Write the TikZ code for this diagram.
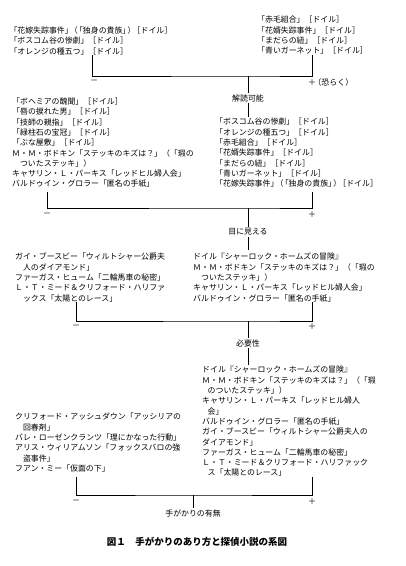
\documentclass[tikz,border=0pt]{standalone}
\usepackage{fontspec}
\setmainfont{Noto Sans CJK JP}
\usepackage{tikz}
\newcommand{\pk}{\kern-.35em}
\tikzset{
  works/.style={anchor=north west,inner sep=0pt,align=left,font=\fontsize{7.9}{10.3}\selectfont},
  sign/.style={inner sep=0pt,font=\fontsize{8}{9}\selectfont},
  axis/.style={inner sep=1.5pt,font=\fontsize{7.9}{9}\selectfont},
  tree/.style={line width=0.6pt}
}

\begin{document}
\begin{tikzpicture}[x=1pt,y=-1pt]
%%\draw[help lines] (0,0) grid (406,566);
\useasboundingbox (0,0) rectangle (406,566);
% first split
\node[works] (lA) at (9.3,26.7) {「花嫁失踪事件」\pk（\pk「独身の貴族」\pk）\pk［ドイル］\\
「ボスコム谷の惨劇」［ドイル］\\
「オレンジの種五つ」［ドイル］};
\node[works] (lB) at (257,16) {「赤毛組合」［ドイル］\\
「花婿失踪事件」［ドイル］\\
「まだらの紐」［ドイル］\\
「青いガーネット」［ドイル］};
\coordinate (b1l) at (92.7,55);
\coordinate (b1r) at (312,55);
\coordinate (b1m) at (248,76);
\coordinate (e1) at (248,117);
\draw[tree] (b1l)|-(b1m)-|(b1r);
\node[sign] (m1) at (94,82) {－};
\node[sign,anchor=west] (p1) at (308,82) {＋\pk（恐らく）};
\node[axis] (t1) at (248,98) {解読可能};
\draw[tree] (b1m)--(t1.north);
\draw[tree] (t1.south)--(e1);
% second split
\node[works] (lC) at (12,97.7) {「ボヘミアの醜聞」［ドイル］\\
「唇の捩れた男」［ドイル］\\
「技師の親指」［ドイル］\\
「緑柱石の宝冠」［ドイル］\\
「ぶな屋敷」［ドイル］\\
Ｍ・Ｍ・ボドキン「ステッキのキズは？」（「瑕の\\
\hspace{1em}ついたステッキ」）\\
キャサリン・Ｌ・パーキス「レッドヒル婦人会」\\
バルドゥイン・グロラー「匿名の手紙」};
\node[works] (lD) at (215,118) {「ボスコム谷の惨劇」［ドイル］\\
「オレンジの種五つ」［ドイル］\\
「赤毛組合」［ドイル］\\
「花婿失踪事件」［ドイル］\\
「まだらの紐」［ドイル］\\
「青いガーネット」［ドイル］\\
「花嫁失踪事件」\pk（\pk「独身の貴族」\pk）\pk［ドイル］};
\coordinate (b2l) at (47,192);
\coordinate (b2r) at (312,192);
\coordinate (b2m) at (248,208);
\coordinate (e2) at (248,250);
\draw[tree] (b2l)|-(b2m)-|(b2r);
\node[sign] (m2) at (47,215) {－};
\node[sign] (p2) at (312,215) {＋};
\node[axis] (t2) at (248,232) {目に見える};
\draw[tree] (b2m)--(t2.north);
\draw[tree] (t2.south)--(e2);
% third split
\node[works] (lE) at (15,253) {ガイ・ブースビー「ウィルトシャー公爵夫\\
\hspace{1em}人のダイアモンド」\\
ファーガス・ヒューム「二輪馬車の秘密」\\
Ｌ・Ｔ・ミード＆クリフォード・ハリファ\\
\hspace{1em}ックス「太陽とのレース」};
\node[works] (lF) at (193,253) {ドイル『シャーロック・ホームズの冒険』\\
Ｍ・Ｍ・ボドキン「ステッキのキズは？」（「瑕の\\
\hspace{1em}ついたステッキ」）\\
キャサリン・Ｌ・パーキス「レッドヒル婦人会」\\
バルドゥイン・グロラー「匿名の手紙」};
\coordinate (b3l) at (76,302);
\coordinate (b3r) at (312,302);
\coordinate (b3m) at (248,321);
\coordinate (e3) at (248,365);
\draw[tree] (b3l)|-(b3m)-|(b3r);
\node[sign] (m3) at (76,327) {－};
\node[sign] (p3) at (312,327) {＋};
\node[axis] (t3) at (248,343) {必要性};
\draw[tree] (b3m)--(t3.north);
\draw[tree] (t3.south)--(e3);
% last split
\node[works] (lG) at (15,413) {クリフォード・アッシュダウン「アッシリアの\\
\hspace{1em}回春剤」\\
バレ・ローゼンクランツ「理にかなった行動」\\
アリス・ウィリアムソン「フォックスバロの強\\
\hspace{1em}盗事件」\\
フアン・ミー「仮面の下」};
\node[works] (lH) at (202,366) {ドイル『シャーロック・ホームズの冒険』\\
Ｍ・Ｍ・ボドキン「ステッキのキズは？」（「瑕\\
\hspace{.7em}のついたステッキ」）\\
キャサリン・Ｌ・パーキス「レッドヒル婦人\\
\hspace{.7em}会」\\
バルドゥイン・グロラー「匿名の手紙」\\
ガイ・ブースビー「ウィルトシャー公爵夫人の\\
ダイアモンド」\\
ファーガス・ヒューム「二輪馬車の秘密」\\
Ｌ・Ｔ・ミード＆クリフォード・ハリファック\\
\hspace{.7em}ス「太陽とのレース」};
\coordinate (b4l) at (76,477);
\coordinate (b4r) at (312,477);
\coordinate (b4m) at (193,495);
\draw[tree] (b4l)|-(b4m)-|(b4r);
\node[sign] (m4) at (76,502) {－};
\node[sign] (p4) at (312,502) {＋};
\node[axis] (t4) at (193,513) {手がかりの有無};
\draw[tree] (b4m)--(t4.north);
% caption
\node[font=\fontsize{9.5}{11}\selectfont\bfseries] (cap) at (197,542) {図１　手がかりのあり方と探偵小説の系図};
\end{tikzpicture}
\end{document}
